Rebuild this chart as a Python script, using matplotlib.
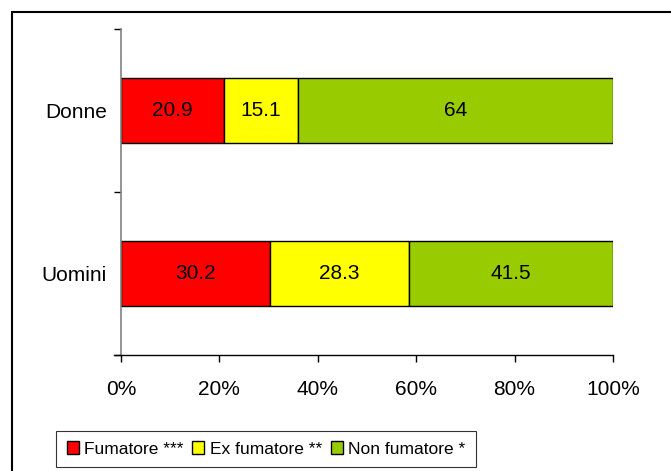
import matplotlib.pyplot as plt
from matplotlib.patches import Rectangle
import numpy as np

plt.rcParams['font.family'] = ['Liberation Sans', 'DejaVu Sans']

# data
gruppi = ['Uomini', 'Donne']
serie = ['Fumatore ***', 'Ex fumatore **', 'Non fumatore *']
fumatore = [30.2, 20.9]
ex_fumatore = [28.3, 15.1]
non_fumatore = [41.5, 64]
colori = ['#FF0000', '#FFFF00', '#99CC00']

fs = 15

fig = plt.figure(figsize=(6.71, 4.71), dpi=100)
ax = fig.add_axes([121/671, 1 - 355/471, (613 - 121)/671, (355 - 29)/471])

# outer frame of the chart area (cut off at right and bottom)
fig.patches.append(Rectangle((12/671, -0.1), 1.0, (471 - 12)/471 + 0.1,
                             transform=fig.transFigure, fill=False,
                             edgecolor='black', linewidth=1.5))

y = np.arange(len(gruppi))
left = np.zeros(len(gruppi))
for vals, col, name in zip([fumatore, ex_fumatore, non_fumatore], colori, serie):
    bars = ax.barh(y, vals, left=left, height=0.4, color=col,
                   edgecolor='black', linewidth=1, label=name)
    for b, v in zip(bars, vals):
        ax.text(b.get_x() + b.get_width()/2, b.get_y() + b.get_height()/2,
                f'{v:g}', ha='center', va='center', fontsize=fs)
    left += np.array(vals)

ax.set_xlim(0, 100)
ax.set_ylim(-0.5, 1.5)
ax.set_xticks(range(0, 101, 20))
ax.set_xticklabels([f'{t}%' for t in range(0, 101, 20)], fontsize=fs)
ax.set_yticks([-0.5, 0.5, 1.5])
ax.set_yticklabels([])
ax.set_yticks(y, minor=True)
ax.set_yticklabels(gruppi, minor=True, fontsize=fs)
ax.tick_params(axis='y', which='minor', length=0, pad=10)
ax.tick_params(axis='y', which='major', length=5, width=1, color='black')
ax.tick_params(axis='x', length=5, width=1, pad=13)

for s in ['top', 'right']:
    ax.spines[s].set_visible(False)
ax.spines['left'].set_color('#808080')
ax.spines['left'].set_linewidth(1.2)
ax.spines['bottom'].set_linewidth(1)
ax.spines['bottom'].set_bounds(-1.5, 100)

leg = fig.legend(loc='center', bbox_to_anchor=(266/671, 1 - 449/471), ncol=3,
                 fontsize=12.5, frameon=True, fancybox=False, edgecolor='black',
                 handlelength=0.7, handleheight=0.7, handletextpad=0.3,
                 columnspacing=0.5, borderpad=0.6)
leg.get_frame().set_linewidth(0.8)

fig.savefig('out.png', dpi=100)
